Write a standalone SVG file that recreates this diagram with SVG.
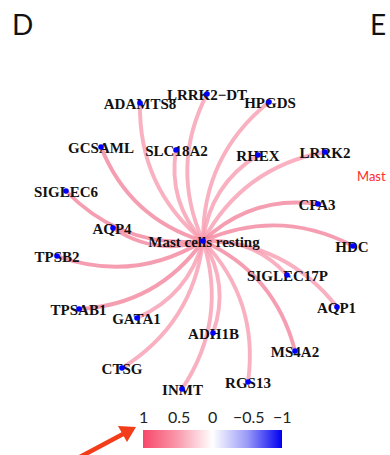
<svg xmlns="http://www.w3.org/2000/svg" width="390" height="455" viewBox="0 0 390 455">
<style>
.lbl{font-family:"Liberation Serif","Times New Roman",serif;font-weight:bold;font-size:15px;fill:#111;text-anchor:middle}
.dot{fill:#0000ff}
.e{fill:none;stroke:#f4869d;stroke-width:3.9;stroke-opacity:0.8;stroke-linecap:round}
.e2{stroke:#f79eb1}
.panel{font-family:"Lato","Liberation Sans",sans-serif;font-size:28px;fill:#111}
.leg{font-family:"Lato","Liberation Sans",sans-serif;font-size:16px;fill:#222}
</style>
<defs>
<linearGradient id="grad" x1="0" y1="0" x2="1" y2="0">
<stop offset="0" stop-color="#f7476a"/>
<stop offset="0.25" stop-color="#f99aac"/>
<stop offset="0.5" stop-color="#ffffff"/>
<stop offset="0.75" stop-color="#9a9af8"/>
<stop offset="1" stop-color="#0000f2"/>
</linearGradient>
</defs>
<rect width="390" height="455" fill="#fff"/>
<text class="panel" x="12" y="35">D</text>
<text class="panel" x="370" y="35">E</text>
<text x="357" y="181" font-family="Lato,'Liberation Sans',sans-serif" font-size="13" fill="#ff2a2a">Mast</text>
<g id="edges">
<path class="e e2" d="M203,241 Q138.4,187.1 140,103"/>
<path class="e e2" d="M203,241 Q169.7,166.5 207,94"/>
<path class="e e2" d="M203,241 Q202.6,155.7 269,102"/>
<path class="e" d="M203,241 Q129.4,218.5 101,147"/>
<path class="e e2" d="M203,241 Q167.7,202 176,150"/>
<path class="e e2" d="M203,241 Q209.9,184.8 258,155"/>
<path class="e e2" d="M203,241 Q242.6,167.2 325,152"/>
<path class="e" d="M203,241 Q122.5,248.9 66,191"/>
<path class="e" d="M203,241 Q251.6,194.9 318,204"/>
<path class="e" d="M203,241 Q154.9,256.1 113,228"/>
<path class="e" d="M203,241 Q279.2,207.5 353,246"/>
<path class="e" d="M203,241 Q133.6,283.5 57,256"/>
<path class="e e2" d="M203,241 Q253.2,237.8 287,275"/>
<path class="e" d="M203,241 Q157.3,304.8 79,309"/>
<path class="e e2" d="M203,241 Q285.8,241.8 337,307"/>
<path class="e e2" d="M203,241 Q188.5,295.3 137,318"/>
<path class="e e2" d="M203,241 Q230.1,284.6 213,333"/>
<path class="e" d="M203,241 Q275.4,273.9 295,351"/>
<path class="e e2" d="M203,241 Q193,323.9 122,368"/>
<path class="e e2" d="M203,241 Q259.3,300.7 248,382"/>
<path class="e e2" d="M203,241 Q228,320 182,389"/>
</g>
<g id="n-ADAMTS8"><text class="lbl" x="140" y="108.5">ADAMTS8</text><circle class="dot" cx="140" cy="103" r="2.8"/></g>
<g id="n-LRRK2-DT"><text class="lbl" x="207" y="99.5">LRRK2−DT</text><circle class="dot" cx="207" cy="94" r="2.8"/></g>
<g id="n-HPGDS"><text class="lbl" x="270" y="107.5">HPGDS</text><circle class="dot" cx="269" cy="102" r="2.8"/></g>
<g id="n-GCSAML"><text class="lbl" x="101" y="152.5">GCSAML</text><circle class="dot" cx="101" cy="147" r="2.8"/></g>
<g id="n-SLC18A2"><text class="lbl" x="176.5" y="155.5">SLC18A2</text><circle class="dot" cx="176" cy="150" r="2.8"/></g>
<g id="n-RHEX"><text class="lbl" x="258" y="160.5">RHEX</text><circle class="dot" cx="258" cy="155" r="2.8"/></g>
<g id="n-LRRK2"><text class="lbl" x="325" y="157.5">LRRK2</text><circle class="dot" cx="325" cy="152" r="2.8"/></g>
<g id="n-SIGLEC6"><text class="lbl" x="66" y="196.5">SIGLEC6</text><circle class="dot" cx="66" cy="191" r="2.8"/></g>
<g id="n-CPA3"><text class="lbl" x="317" y="209.5">CPA3</text><circle class="dot" cx="318" cy="204" r="2.8"/></g>
<g id="n-AQP4"><text class="lbl" x="112" y="233.5">AQP4</text><circle class="dot" cx="113" cy="228" r="2.8"/></g>
<g id="n-center"><text class="lbl" x="204" y="246.5">Mast cells resting</text><circle class="dot" cx="203" cy="241" r="2.8"/></g>
<g id="n-HDC"><text class="lbl" x="352" y="251.5">HDC</text><circle class="dot" cx="353" cy="246" r="2.8"/></g>
<g id="n-TPSB2"><text class="lbl" x="57" y="261.5">TPSB2</text><circle class="dot" cx="57" cy="256" r="2.8"/></g>
<g id="n-SIGLEC17P"><text class="lbl" x="287.5" y="280.5">SIGLEC17P</text><circle class="dot" cx="287" cy="275" r="2.8"/></g>
<g id="n-TPSAB1"><text class="lbl" x="78.5" y="314.5">TPSAB1</text><circle class="dot" cx="79" cy="309" r="2.8"/></g>
<g id="n-AQP1"><text class="lbl" x="336.5" y="312.5">AQP1</text><circle class="dot" cx="337" cy="307" r="2.8"/></g>
<g id="n-GATA1"><text class="lbl" x="136.5" y="323.5">GATA1</text><circle class="dot" cx="137" cy="318" r="2.8"/></g>
<g id="n-ADH1B"><text class="lbl" x="213.5" y="338.5">ADH1B</text><circle class="dot" cx="213" cy="333" r="2.8"/></g>
<g id="n-MS4A2"><text class="lbl" x="295" y="356.5">MS4A2</text><circle class="dot" cx="295" cy="351" r="2.8"/></g>
<g id="n-CTSG"><text class="lbl" x="122" y="373.5">CTSG</text><circle class="dot" cx="122" cy="368" r="2.8"/></g>
<g id="n-RGS13"><text class="lbl" x="248" y="387.5">RGS13</text><circle class="dot" cx="248" cy="382" r="2.8"/></g>
<g id="n-INMT"><text class="lbl" x="182.5" y="394.5">INMT</text><circle class="dot" cx="182" cy="389" r="2.8"/></g>
<g id="legend">
<text class="leg" x="139" y="423">1</text>
<text class="leg" x="168" y="423">0.5</text>
<text class="leg" x="208" y="423">0</text>
<text class="leg" x="233" y="423">−0.5</text>
<text class="leg" x="273" y="423">−1</text>
<rect x="143" y="430" width="139" height="18" fill="url(#grad)"/>
</g>
<g id="arrow">
<line x1="78" y1="458" x2="124" y2="433.5" stroke="#f23c1a" stroke-width="4.5"/>
<polygon points="136,427 118,426 127,442" fill="#f23c1a"/>
</g>
</svg>
